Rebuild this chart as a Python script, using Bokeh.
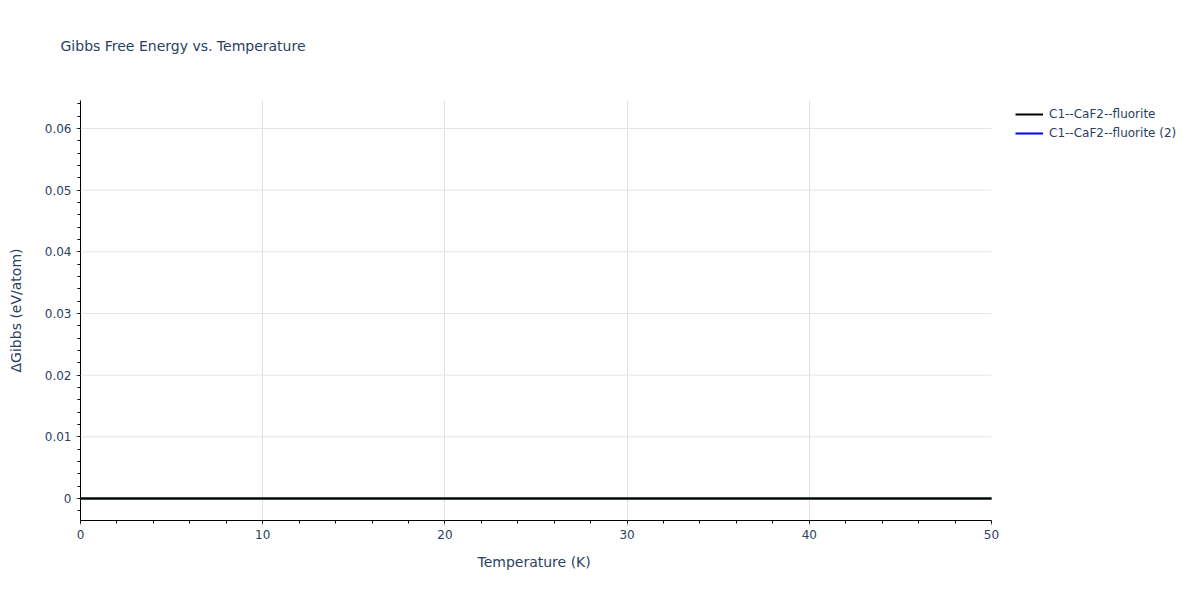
from bokeh.plotting import figure
from bokeh.models import FixedTicker, Legend, LegendItem, Range1d, LinearAxis, Title
from bokeh.embed import file_html
from bokeh.resources import INLINE

# Data
temperature = [0, 10, 20, 30, 40, 50]
gibbs_fluorite = [0, 0, 0, 0, 0, 0]
gibbs_fluorite_2 = [0, 0, 0, 0, 0, 0]
series_names = ["C1--CaF2--fluorite", "C1--CaF2--fluorite (2)"]
x_ticks = [0, 10, 20, 30, 40, 50]
y_ticks = [0, 0.01, 0.02, 0.03, 0.04, 0.05, 0.06]
y_tick_labels = ["0", "0.01", "0.02", "0.03", "0.04", "0.05", "0.06"]
x_minor = [v for v in range(0, 51, 2)]
y_minor = [round(-0.002 + 0.002 * i, 3) for i in range(0, 35)]
title_text = "Gibbs Free Energy vs. Temperature"
x_label = "Temperature (K)"
y_label = "ΔGibbs (eV/atom)"

FONT = "DejaVu Sans"
TXT = "#2a3f5f"

# the frame runs to the right edge so the legend can sit inside it;
# the x axis itself is bounded to 0..50
X_MIN, X_MAX = 0, 50
x_end = X_MAX * 1104 / 911

p = figure(frame_width=1104, frame_height=420, output_backend="svg", toolbar_location=None,
           x_range=Range1d(X_MIN, x_end), y_range=Range1d(-0.00357, 0.06454),
           min_border_left=80, min_border_right=0, min_border_top=100, min_border_bottom=64,
           title=None)
p.outline_line_color = None
p.background_fill_color = "white"
p.border_fill_color = "white"

p.xaxis.ticker = FixedTicker(ticks=x_ticks, minor_ticks=x_minor)
p.yaxis.ticker = FixedTicker(ticks=y_ticks, minor_ticks=y_minor)
p.yaxis.major_label_overrides = {t: l for t, l in zip(y_ticks, y_tick_labels)}
p.xaxis.bounds = (X_MIN, X_MAX)

for ax in (p.xaxis[0], p.yaxis[0]):
    ax.axis_line_color = "black"
    ax.axis_line_width = 1
    ax.major_tick_line_color = "#bbbbbb"
    ax.major_tick_out = 5
    ax.major_tick_in = 0
    ax.minor_tick_line_color = "black"
    ax.minor_tick_out = 3
    ax.minor_tick_in = 0
    ax.major_label_text_font = FONT
    ax.major_label_text_font_size = "12px"
    ax.major_label_text_color = TXT
    ax.axis_label_text_font = FONT
    ax.axis_label_text_font_size = "14px"
    ax.axis_label_text_font_style = "normal"
    ax.axis_label_text_color = TXT
    ax.major_label_standoff = 4

p.yaxis.axis_label = y_label
p.yaxis.axis_label_standoff = 18

# x axis title as a Title below the axis (the frame is wider than the axis)
p.add_layout(Title(text=x_label, align="left", offset=397, standoff=20,
                   text_font=FONT, text_font_size="14px", text_font_style="normal",
                   text_color=TXT), "below")

# blank spacer above the frame (one white tick, no label), then the chart title
spacer = LinearAxis(ticker=FixedTicker(ticks=[X_MAX]), axis_line_color=None,
                    major_tick_line_color="white", minor_tick_line_color=None,
                    major_tick_out=42, major_tick_in=0, minor_tick_out=0, minor_tick_in=0,
                    major_label_standoff=0, major_label_text_font_size="0px",
                    major_label_overrides={X_MAX: ""})
p.add_layout(spacer, "above")
p.add_layout(Title(text=title_text, align="left", offset=-20, standoff=10,
                   text_font=FONT, text_font_size="14px", text_font_style="normal",
                   text_color=TXT), "above")

# grid
p.xgrid.grid_line_color = "#e0e0e0"
p.xgrid.ticker = FixedTicker(ticks=x_ticks[1:-1])
p.ygrid.visible = False
p.segment(x0=[x_ticks[0]] * len(y_ticks), x1=[x_ticks[-1]] * len(y_ticks),
          y0=y_ticks, y1=y_ticks, line_color="#e5e5e5", line_width=1)

r2 = p.line(temperature, gibbs_fluorite_2, line_color="blue", line_width=2)
r1 = p.line(temperature, gibbs_fluorite, line_color="black", line_width=2)

legend = Legend(items=[LegendItem(label=series_names[0], renderers=[r1]),
                       LegendItem(label=series_names[1], renderers=[r2])],
                location=(935, 379), padding=0, margin=0, spacing=3,
                glyph_width=28, glyph_height=16, label_standoff=6,
                label_text_font=FONT, label_text_font_size="12px", label_text_color=TXT,
                border_line_color=None, background_fill_alpha=0)
p.add_layout(legend)

open("out.html", "w").write(file_html(p, INLINE))
